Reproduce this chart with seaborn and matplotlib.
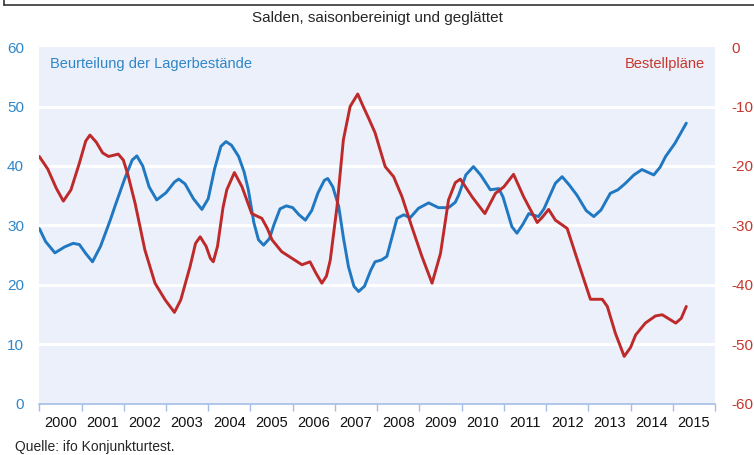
import numpy as np
import pandas as pd
import seaborn as sns
import matplotlib.pyplot as plt
from matplotlib.lines import Line2D

# Style
sns.set_style("white", {"axes.facecolor": "#EBF0FA"})
plt.rcParams['font.family'] = ['Liberation Sans', 'DejaVu Sans']

# -----------------------------
# DATA (years as decimals)
# -----------------------------
lager_t = [2000.00, 2000.15, 2000.37, 2000.60, 2000.80, 2000.95, 2001.10, 2001.26,
           2001.45, 2001.68, 2001.80, 2002.03, 2002.20, 2002.31, 2002.45, 2002.60,
           2002.78, 2003.00, 2003.20, 2003.30, 2003.45, 2003.65, 2003.85, 2004.00,
           2004.15, 2004.30, 2004.42, 2004.55, 2004.72, 2004.85, 2004.95, 2005.08,
           2005.19, 2005.31, 2005.45, 2005.55, 2005.70, 2005.85, 2006.00, 2006.15,
           2006.30, 2006.45, 2006.60, 2006.75, 2006.83, 2006.95, 2007.09, 2007.20,
           2007.32, 2007.45, 2007.56, 2007.70, 2007.85, 2007.95, 2008.10, 2008.23,
           2008.35, 2008.47, 2008.63, 2008.78, 2008.98, 2009.22, 2009.45, 2009.69,
           2009.85, 2009.93, 2010.10, 2010.28, 2010.45, 2010.68, 2010.88, 2010.98,
           2011.19, 2011.31, 2011.45, 2011.59, 2011.82, 2011.95, 2012.22, 2012.38,
           2012.55, 2012.73, 2012.95, 2013.13, 2013.30, 2013.52, 2013.70, 2013.88,
           2014.08, 2014.27, 2014.55, 2014.70, 2014.83, 2015.05, 2015.32]
lager = [29.5, 27.3, 25.4, 26.4, 27.0, 26.8, 25.3, 23.9,
         26.5, 30.9, 33.4, 38.0, 41.0, 41.7, 40.0, 36.5,
         34.3, 35.5, 37.3, 37.8, 37.0, 34.5, 32.7, 34.5,
         39.5, 43.3, 44.1, 43.5, 41.6, 39.0, 36.0, 30.5,
         27.6, 26.7, 27.8, 30.0, 32.8, 33.3, 33.0, 31.8,
         30.9, 32.5, 35.5, 37.6, 37.9, 36.5, 33.2, 28.0,
         23.1, 19.8, 18.9, 19.8, 22.5, 23.9, 24.2, 24.8,
         28.0, 31.2, 31.8, 31.3, 32.9, 33.8, 33.0, 33.0,
         33.9, 35.1, 38.5, 39.9, 38.5, 36.0, 36.2, 34.8,
         29.8, 28.7, 30.2, 32.0, 31.5, 32.8, 37.1, 38.2,
         36.8, 35.1, 32.5, 31.5, 32.6, 35.4, 36.0, 37.1,
         38.5, 39.4, 38.5, 39.8, 41.6, 43.8, 47.2]

bestell_t = [2000.00, 2000.20, 2000.40, 2000.57, 2000.75, 2000.95, 2001.10, 2001.20,
             2001.35, 2001.50, 2001.64, 2001.87, 2001.99, 2002.10, 2002.27, 2002.50,
             2002.74, 2002.98, 2003.20, 2003.35, 2003.57, 2003.70, 2003.81, 2003.95,
             2004.05, 2004.12, 2004.22, 2004.35, 2004.44, 2004.62, 2004.80, 2005.03,
             2005.27, 2005.40, 2005.51, 2005.74, 2005.98, 2006.22, 2006.41, 2006.55,
             2006.69, 2006.80, 2006.89, 2007.05, 2007.20, 2007.36, 2007.54, 2007.67,
             2007.80, 2007.95, 2008.08, 2008.19, 2008.39, 2008.59, 2008.82, 2009.06,
             2009.30, 2009.50, 2009.69, 2009.85, 2009.97, 2010.25, 2010.55, 2010.80,
             2011.00, 2011.23, 2011.47, 2011.79, 2011.90, 2012.06, 2012.22, 2012.50,
             2012.77, 2013.05, 2013.33, 2013.45, 2013.64, 2013.85, 2014.00, 2014.12,
             2014.35, 2014.59, 2014.75, 2015.07, 2015.20, 2015.32]
bestell = [-18.4, -20.5, -23.7, -25.9, -24.0, -19.5, -15.8, -14.8,
           -16.0, -17.8, -18.4, -18.0, -19.0, -21.5, -26.3, -34.1,
           -39.7, -42.5, -44.6, -42.5, -36.9, -33.0, -31.9, -33.5,
           -35.5, -36.1, -33.5, -27.0, -24.0, -21.1, -23.5, -28.0,
           -28.8, -30.5, -32.4, -34.4, -35.5, -36.6, -36.1, -38.0,
           -39.7, -38.5, -35.8, -26.8, -15.6, -10.0, -7.9, -10.0,
           -12.0, -14.4, -17.5, -20.1, -21.8, -25.2, -30.2, -35.2,
           -39.7, -34.7, -25.7, -22.8, -22.2, -25.2, -28.0, -24.6,
           -23.5, -21.4, -25.2, -29.5, -28.7, -27.3, -29.1, -30.5,
           -36.4, -42.4, -42.4, -43.6, -48.1, -52.0, -50.5, -48.4,
           -46.4, -45.2, -45.0, -46.4, -45.6, -43.6]

years = list(range(2000, 2016))
left_ticks = [0, 10, 20, 30, 40, 50, 60]
right_ticks = [-60, -50, -40, -30, -20, -10, 0]

df_l = pd.DataFrame({"t": lager_t, "v": lager})
df_b = pd.DataFrame({"t": bestell_t, "v": bestell})

BLUE = "#1F78C1"
RED = "#BE2A2A"
AXBLUE = "#A5BDE6"

# -----------------------------
# PLOT
# -----------------------------
fig = plt.figure(figsize=(7.54, 4.55), dpi=100)
ax = fig.add_axes([0.0521, 0.1121, 0.8962, 0.7846])
ax2 = ax.twinx()

sns.lineplot(data=df_l, x="t", y="v", ax=ax, color=BLUE, linewidth=2.1,
             solid_joinstyle="round", solid_capstyle="round")
sns.lineplot(data=df_b, x="t", y="v", ax=ax2, color=RED, linewidth=2.1,
             solid_joinstyle="round", solid_capstyle="round")

ax.set_xlim(2000, 2016)
ax.set_ylim(0, 60)
ax2.set_ylim(-60, 0)

# white grid lines
for v in left_ticks[1:-1]:
    ax.axhline(v, color="white", linewidth=2.2, zorder=1)
ax.set_axisbelow(True)

# x axis: ticks at year boundaries, labels in between
ax.set_xticks(years + [2016])
ax.set_xticklabels([])
ax.set_xticks([y + 0.5 for y in years], minor=True)
ax.set_xticklabels([str(y) for y in years], minor=True, fontsize=10.5, color="#111111")
ax.tick_params(axis="x", which="major", direction="out", length=5, width=1, color=AXBLUE, bottom=True)
ax.tick_params(axis="x", which="minor", length=0, pad=9)

ax.set_yticks(left_ticks)
ax.set_yticklabels([str(v) for v in left_ticks], fontsize=11, color="#2F86C8")
ax.tick_params(axis="y", length=0, pad=11)
ax2.set_yticks(right_ticks)
ax2.set_yticklabels([str(v) for v in right_ticks], fontsize=11, color="#C8372D")
ax2.tick_params(axis="y", length=0, pad=12)

for a in (ax, ax2):
    a.set_xlabel("")
    a.set_ylabel("")
    for s in ["top", "left", "right", "bottom"]:
        a.spines[s].set_visible(False)
ax.spines["bottom"].set_visible(True)
ax.spines["bottom"].set_color(AXBLUE)
ax.spines["bottom"].set_linewidth(1.2)

# series labels
ax.text(2000.25, 57.2, "Beurteilung der Lagerbestände", color="#2F86C8", fontsize=10.5, va="center")
ax.text(2015.75, 57.2, "Bestellpläne", color="#C8372D", fontsize=10.5, va="center", ha="right")

# title and source
fig.text(0.5, 0.96, "Salden, saisonbereinigt und geglättet", ha="center", va="center", fontsize=11)
fig.text(0.02, 0.018, "Quelle: ifo Konjunkturtest.", ha="left", va="center", fontsize=10)

# cropped frame at the top
fig.add_artist(Line2D([0.005, 1.0], [0.99, 0.99], color="#333333", linewidth=1.2))
fig.add_artist(Line2D([0.005, 0.005], [0.99, 1.0], color="#333333", linewidth=1.2))

plt.savefig("out.png", dpi=100)
